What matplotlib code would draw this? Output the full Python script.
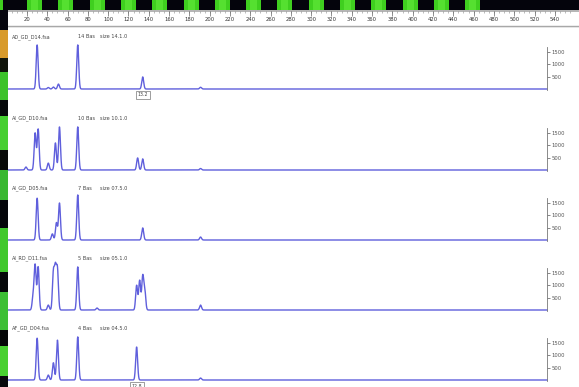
import numpy as np
import matplotlib
matplotlib.use('Agg')
import matplotlib.pyplot as plt
from matplotlib.patches import Rectangle

W, H = 579, 387

# ruler (size scale, bp)
ruler_labels = list(range(20, 560, 20))

# sample headers
sample_names = ['AD_GD_D14.fsa', 'AI_GD_D10.fsa', 'AI_GD_D05.fsa', 'AI_RD_D11.fsa', 'AF_GD_D04.fsa']
bas_labels = ['14 Bas', '10 Bas', '7 Bas', '5 Bas', '4 Bas']
size_labels = ['size 14.1.0', 'size 10.1.0', 'size 07.5.0', 'size 05.1.0', 'size 04.5.0']

# right axis ticks (RFU)
rfu_ticks = [500, 1000, 1500]
rfu_labels = ['500', '1000', '1500']

# peaks per sample: position (bp), height (RFU)
pk1_pos = [30, 41, 46, 51, 70, 134, 191]
pk1_hgt = [1790, 60, 80, 200, 1790, 490, 70]
pk2_pos = [19, 28, 31, 41, 48, 52, 70, 129, 134, 191]
pk2_hgt = [120, 1500, 1660, 280, 1100, 1750, 1750, 490, 450, 60]
pk3_pos = [30, 45, 49, 52, 70, 134, 191]
pk3_hgt = [1700, 250, 700, 1500, 1830, 490, 120]
pk4_pos = [26, 28, 31, 41, 46, 48, 50, 70, 89, 128, 131, 134, 136, 191]
pk4_hgt = [530, 1800, 1750, 200, 1500, 1600, 1600, 1750, 80, 1000, 1200, 1340, 800, 200]
pk5_pos = [30, 41, 46, 50, 70, 128, 191]
pk5_hgt = [1700, 200, 700, 1620, 1750, 1340, 80]
peak_pos = [pk1_pos, pk2_pos, pk3_pos, pk4_pos, pk5_pos]
peak_hgt = [pk1_hgt, pk2_hgt, pk3_hgt, pk4_hgt, pk5_hgt]

# size-call boxes (panel index, bp, text)
calls = [(0, 134, '13.2'), (4, 128, '12.8')]

baselines_px = [89, 170, 240, 310, 380]
X0_PX, PX_PER_BP = 6.7, 1.015
RFU_PER_PX = 40.6
TRACE = '#5f5fdc'


def fx(px):
    return px / W


def fy(py):
    return 1 - py / H


fig = plt.figure(figsize=(W / 100, H / 100), dpi=100)
fig.patch.set_facecolor('white')

# decorative top strip
fig.add_artist(Rectangle((0, fy(10)), 1, 10 / H, transform=fig.transFigure,
                         facecolor='#04040c', edgecolor='none'))
for k in range(15):
    x = 27 + 31.3 * k
    fig.add_artist(Rectangle((fx(x), fy(10)), 15 / W, 10 / H, transform=fig.transFigure,
                             facecolor='#3fcf1f', edgecolor='none'))
    fig.add_artist(Rectangle((fx(x + 4), fy(10)), 7 / W, 10 / H, transform=fig.transFigure,
                             facecolor='#55e030', edgecolor='none'))
fig.add_artist(Rectangle((0, fy(10)), 3 / W, 10 / H, transform=fig.transFigure,
                         facecolor='#3fcf1f', edgecolor='none'))

# decorative left strip
left_blocks = [(10, 30, '#06060e'), (30, 58, '#d89a2a'), (58, 72, '#10140a'),
               (72, 100, '#3cc22a'), (100, 116, '#06080a'), (116, 150, '#45cf30'),
               (150, 170, '#080a08'), (170, 200, '#38b830'), (200, 228, '#04060a'),
               (228, 272, '#40c82c'), (272, 292, '#06080a'), (292, 330, '#3cbf34'),
               (330, 346, '#050707'), (346, 376, '#48d030'), (376, 387, '#08080c')]
for y0, y1, c in left_blocks:
    fig.add_artist(Rectangle((0, fy(y1)), 8 / W, (y1 - y0) / H, transform=fig.transFigure,
                             facecolor=c, edgecolor='none'))

# ruler
rx0 = -X0_PX / PX_PER_BP
rx1 = (W - X0_PX) / PX_PER_BP
rax = fig.add_axes([fx(8), fy(28), 1 - fx(8), 18 / H])
rax.set_xlim(rx0 + 8 / PX_PER_BP, rx1)
rax.set_ylim(0, 18)
rax.axis('off')
rax.axhline(17.3, color='#a8a8a8', lw=1.2)
rax.axhline(1.6, color='#a8a8a8', lw=1.0)
rax.axhline(0.3, color='#c8c8c8', lw=1.0)
minor = np.arange(0, 560, 5)
rax.vlines(minor, 14.6, 16.8, color='#888888', lw=0.4)
rax.vlines(ruler_labels, 12.5, 16.8, color='#666666', lw=0.5)
for v in ruler_labels:
    rax.text(v, 8.5, str(v), ha='center', va='center', fontsize=3.8, color='#333333')

xmax = (547 - X0_PX) / PX_PER_BP
xs = np.linspace(0, xmax, 4000)

for i, base in enumerate(baselines_px):
    top_px = base - 56
    bot_px = base + 3
    ax = fig.add_axes([fx(X0_PX), fy(bot_px), fx(547 - X0_PX), (bot_px - top_px) / H])
    ax.set_xlim(0, xmax)
    ax.set_ylim(-3 * RFU_PER_PX, 56 * RFU_PER_PX)
    ax.patch.set_alpha(0)
    for s in ['top', 'left', 'bottom']:
        ax.spines[s].set_visible(False)
    ax.spines['right'].set_color('#777777')
    ax.spines['right'].set_linewidth(0.6)
    ax.spines['right'].set_bounds(-40, 1700)
    ax.set_xticks([])
    ax.yaxis.tick_right()
    ax.set_yticks(rfu_ticks, rfu_labels)
    ax.tick_params(axis='y', direction='out', length=2.5, width=0.5, pad=1,
                   labelsize=3.8, colors='#555555')

    trace = np.zeros_like(xs)
    for p, h in zip(peak_pos[i], peak_hgt[i]):
        trace += h * np.exp(-0.5 * ((xs - p) / 0.95) ** 2)
    ax.plot(xs, trace, color=TRACE, lw=1.0, clip_on=False)

    yl = 52 * RFU_PER_PX
    ax.text(5, yl, sample_names[i], fontsize=3.6, color='#444444', va='center', ha='left')
    ax.text(70, yl, bas_labels[i], fontsize=3.6, color='#444444', va='center', ha='left')
    ax.text(92, yl, size_labels[i], fontsize=3.6, color='#444444', va='center', ha='left')

for i, p, t in calls:
    base = baselines_px[i]
    fig.text(fx(X0_PX + p * PX_PER_BP), fy(base + 6), t, fontsize=3.4, color='#444444',
             ha='center', va='center',
             bbox=dict(boxstyle='square,pad=0.35', facecolor='white', edgecolor='#777777', lw=0.5))

fig.savefig('out.png', dpi=100)
